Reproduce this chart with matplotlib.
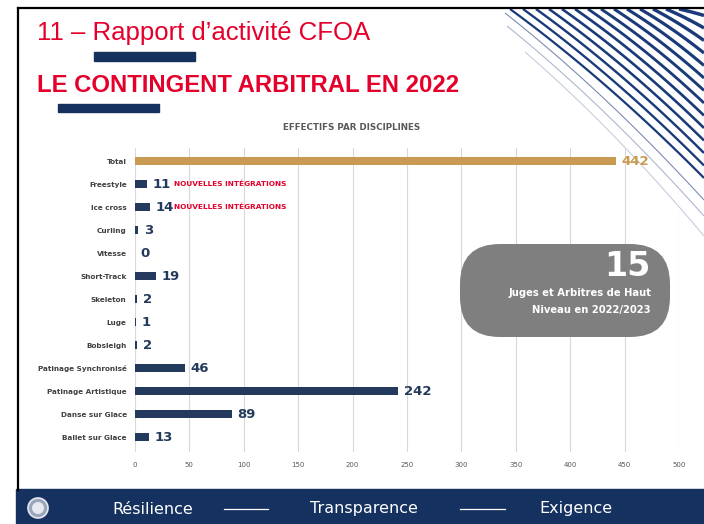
import matplotlib
matplotlib.use('Agg')
import matplotlib.pyplot as plt
from matplotlib.patches import FancyBboxPatch, Rectangle, Circle
import numpy as np

######################################################################
# data
disciplines = ['Ballet sur Glace', 'Danse sur Glace', 'Patinage Artistique',
               'Patinage Synchronisé', 'Bobsleigh', 'Luge', 'Skeleton',
               'Short-Track', 'Vitesse', 'Curling', 'Ice cross', 'Freestyle',
               'Total']
effectifs = [13, 89, 242, 46, 2, 1, 2, 19, 0, 3, 14, 11, 442]
nouvelles = ['Ice cross', 'Freestyle']
x_ticks = [0, 50, 100, 150, 200, 250, 300, 350, 400, 450, 500]

navy = '#243a5c'
gold = '#c99b52'
red = '#e4002b'
footer_blue = '#15315f'
######################################################################
W, H = 704, 524
fig = plt.figure(figsize=(W / 100, H / 100), dpi=100)
fig.patch.set_facecolor('white')

# background decoration, pixel coordinates
bg = fig.add_axes([0, 0, 1, 1], zorder=0)
bg.set_xlim(0, W)
bg.set_ylim(H, 0)
bg.axis('off')


def sweep(ax, x0, y0, y1, **kw):
    # gently bending curve from the top edge to the right edge
    dx, dy = W - x0, y1 - y0
    cx, cy = x0 + 0.5 * dx, y0 + 0.42 * dy
    s = np.linspace(0, 1, 60)
    xs = (1 - s) ** 2 * x0 + 2 * (1 - s) * s * cx + s ** 2 * W
    ys = (1 - s) ** 2 * y0 + 2 * (1 - s) * s * cy + s ** 2 * y1
    ax.plot(xs, ys, solid_capstyle='butt', **kw)


for i in range(14):
    sweep(bg, 510 + 13 * i, 9, 178 - 12.5 * i, color='#1a3a7a', lw=1.6 + 0.07 * i)
for x0, y0, y1, a in [(505, 13, 200, 0.8), (507, 26, 216, 0.5), (525, 52, 236, 0.35)]:
    sweep(bg, x0, y0, y1, color='#5d6f9c', lw=0.8, alpha=a)

# slide frame
bg.plot([18, W], [8, 8], color='black', lw=1.6)
bg.plot([18, 18], [8, 490], color='black', lw=1.6)

# titles
bg.text(37, 33, '11 – Rapport d’activité CFOA', color=red, fontsize=18.5,
        family='Liberation Sans', va='center', ha='left')
bg.add_patch(Rectangle((94, 52), 101, 9, color='#16305e'))
bg.text(37, 86, 'LE CONTINGENT ARBITRAL EN 2022', color=red, fontsize=17.2,
        family='Liberation Sans', fontweight='bold', va='center', ha='left')
bg.add_patch(Rectangle((58, 104), 101, 8, color='#16305e'))
bg.text(352, 128, 'EFFECTIFS PAR DISCIPLINES', color='#595959', fontsize=6.3,
        fontweight='bold', ha='center', va='center')

# footer
bg.add_patch(Rectangle((16, 489), W - 16, 35, color=footer_blue))
bg.add_patch(Circle((38, 508), 10, facecolor='#9aa6bd', edgecolor='#e6e9ef', lw=1.2))
bg.add_patch(Circle((38, 508), 6, facecolor='#e6e9ef', edgecolor='none'))
for label, xc in [('Résilience', 153), ('Transparence', 364), ('Exigence', 576)]:
    bg.text(xc, 509, label, color='white', fontsize=11.5, ha='center', va='center')
bg.plot([224, 268], [509, 509], color='white', lw=0.9)
bg.plot([460, 505], [509, 509], color='white', lw=0.9)

######################################################################
# bar chart
ax = fig.add_axes([135 / W, (H - 452) / H, 544 / W, 304 / H], zorder=1)
ax.patch.set_alpha(0)
y = np.arange(len(disciplines))
colors = [gold if d == 'Total' else navy for d in disciplines]
ax.barh(y, effectifs, height=0.38, color=colors, zorder=2)

for yi, v, d, c in zip(y, effectifs, disciplines, colors):
    ax.annotate(str(v), (v, yi), xytext=(4, 0), textcoords='offset points',
                ha='left', va='center', color=c, fontsize=9.5, fontweight='bold',
                annotation_clip=False)
    if d in nouvelles:
        ax.text(36, yi, 'NOUVELLES INTÉGRATIONS', color=red, fontsize=5.3,
                fontweight='bold', ha='left', va='center')

ax.set_xlim(0, 500)
ax.set_ylim(-0.65, 12.57)
ax.set_xticks(x_ticks)
ax.set_xticklabels([str(t) for t in x_ticks], fontsize=5, color='#595959')
ax.set_yticks(y)
ax.set_yticklabels(disciplines, fontsize=5.2, color='#404040', fontweight='bold')
ax.tick_params(axis='both', length=0)
ax.tick_params(axis='x', pad=7)
ax.tick_params(axis='y', pad=6)
ax.grid(axis='x', color='#d9d9d9', lw=0.8, zorder=0)
ax.set_axisbelow(True)
for s in ax.spines.values():
    s.set_visible(False)

######################################################################
# highlight box on top
fg = fig.add_axes([0, 0, 1, 1], zorder=3)
fg.set_xlim(0, W)
fg.set_ylim(H, 0)
fg.axis('off')
fg.patch.set_alpha(0)
fg.add_patch(FancyBboxPatch((460, 244), 210, 93,
                            boxstyle='round,pad=0,rounding_size=40',
                            facecolor='#7f7f7f', edgecolor='none'))
fg.text(651, 266, '15', color='white', fontsize=24, fontweight='bold',
        ha='right', va='center')
fg.text(651, 293, 'Juges et Arbitres de Haut', color='white', fontsize=7.2,
        fontweight='bold', ha='right', va='center')
fg.text(651, 310, 'Niveau en 2022/2023', color='white', fontsize=7.2,
        fontweight='bold', ha='right', va='center')

fig.savefig('out.png', dpi=100)
